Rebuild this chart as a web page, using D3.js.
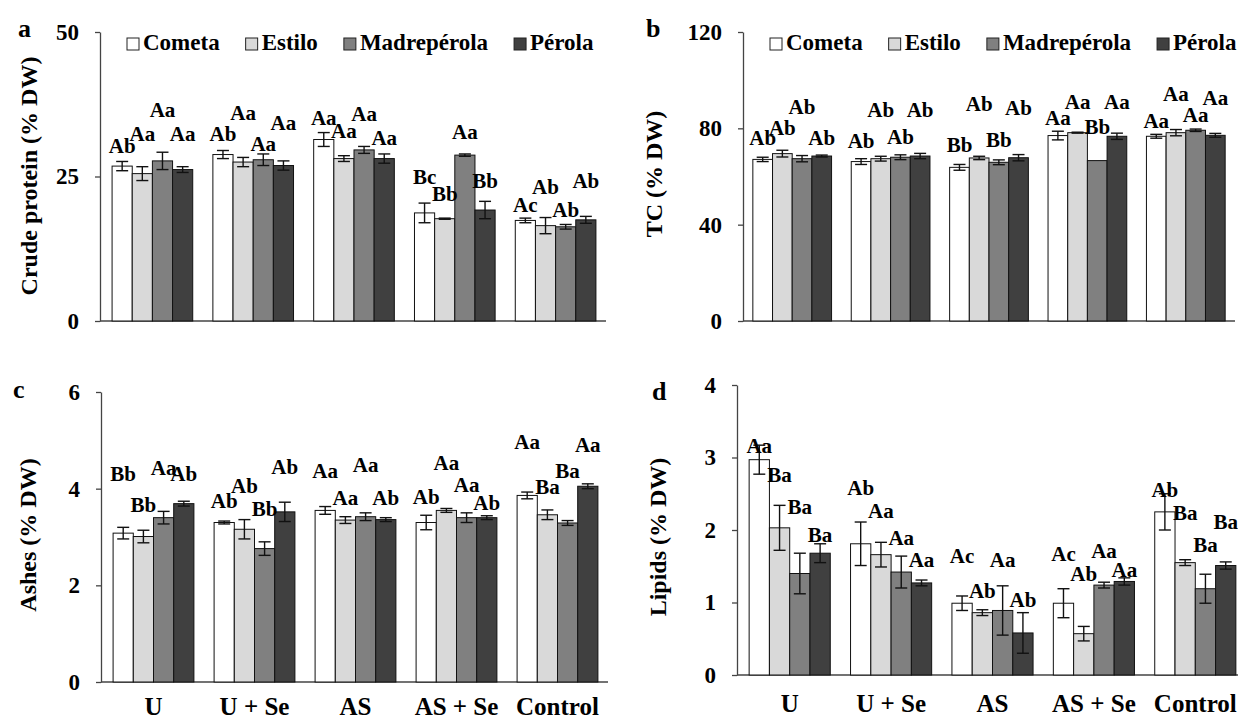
<!DOCTYPE html>
<html>
<head>
<meta charset="utf-8">
<script src="https://cdn.jsdelivr.net/npm/d3@7"></script>
<style>
body { margin: 0; background: #fff; }
</style>
</head>
<body>
<svg id="chart" width="1238" height="720"></svg>
<script>
// categories
const groups = ['U', 'U + Se', 'AS', 'AS + Se', 'Control'];
const cultivars = ['Cometa', 'Estilo', 'Madrepérola', 'Pérola'];

// a - crude protein, rows = groups, cols = cultivars
const proteinMean = [[26.8, 25.5, 27.7, 26.2], [28.8, 27.5, 27.9, 26.9], [31.4, 28.1, 29.6, 28.1], [18.7, 17.7, 28.7, 19.2], [17.4, 16.5, 16.3, 17.5]];
const proteinErr = [[0.8, 1.2, 1.5, 0.5], [0.7, 0.8, 1.0, 0.8], [1.2, 0.5, 0.6, 0.8], [1.7, 0.1, 0.2, 1.5], [0.4, 1.4, 0.4, 0.6]];
const proteinLetters = [['Ab', 'Aa', 'Aa', 'Aa'], ['Ab', 'Aa', 'Aa', 'Aa'], ['Aa', 'Aa', 'Aa', 'Aa'], ['Bc', 'Bb', 'Aa', 'Bb'], ['Ac', 'Ab', 'Ab', 'Ab']];
const proteinLabelAt = [[30.4, 32.5, 36.6, 32.5], [32.5, 36.0, 30.6, 34.4], [35.2, 33.0, 35.9, 31.7], [25.0, 22.0, 32.7, 24.3], [20.2, 23.3, 19.3, 24.2]];
const proteinTicks = [0, 25, 50];

// b - TC
const tcMean = [[67.1, 69.5, 67.4, 68.5], [66.2, 67.4, 68.0, 68.5], [63.8, 67.7, 65.9, 67.8], [77.0, 78.2, 66.6, 76.7], [76.7, 78.2, 79.2, 77.1]];
const tcErr = [[0.9, 1.4, 1.3, 0.4], [1.2, 1.0, 1.0, 1.1], [1.2, 0.7, 1.0, 1.3], [1.8, 0.2, 0, 1.3], [0.8, 1.3, 0.5, 0.8]];
const tcLetters = [['Ab', 'Ab', 'Ab', 'Ab'], ['Ab', 'Ab', 'Ab', 'Ab'], ['Bb', 'Ab', 'Bb', 'Ab'], ['Aa', 'Aa', 'Bb', 'Aa'], ['Aa', 'Aa', 'Aa', 'Aa']];
const tcLabelAt = [[76.3, 80.3, 88.8, 76.3], [74.9, 87.9, 76.6, 87.9], [73.1, 90.2, 75.2, 88.4], [84.6, 91.1, 80.7, 91.1], [83.2, 94.3, 85.6, 92.9]];
const tcTicks = [0, 40, 80, 120];

// c - ashes
const ashMean = [[3.08, 3.01, 3.40, 3.69], [3.30, 3.16, 2.76, 3.52], [3.55, 3.35, 3.42, 3.36], [3.30, 3.55, 3.40, 3.40], [3.86, 3.46, 3.29, 4.05]];
const ashErr = [[0.12, 0.13, 0.13, 0.05], [0.03, 0.2, 0.14, 0.2], [0.08, 0.07, 0.08, 0.04], [0.15, 0.04, 0.1, 0.04], [0.07, 0.1, 0.05, 0.05]];
const ashLetters = [['Bb', 'Bb', 'Aa', 'Ab'], ['Ab', 'Ab', 'Bb', 'Ab'], ['Aa', 'Aa', 'Aa', 'Ab'], ['Ab', 'Aa', 'Aa', 'Ab'], ['Aa', 'Ba', 'Ba', 'Aa']];
const ashLabelAt = [[4.32, 3.66, 4.43, 4.31], [3.76, 4.07, 3.59, 4.46], [4.37, 3.81, 4.50, 3.81], [3.84, 4.53, 4.09, 3.72], [4.97, 4.05, 4.37, 4.92]];
const ashTicks = [0, 2, 4, 6];

// d - lipids
const lipidMean = [[2.97, 2.03, 1.40, 1.68], [1.81, 1.66, 1.42, 1.27], [0.99, 0.86, 0.89, 0.58], [0.99, 0.57, 1.24, 1.29], [2.25, 1.55, 1.19, 1.51]];
const lipidErr = [[0.2, 0.31, 0.28, 0.13], [0.3, 0.17, 0.22, 0.04], [0.1, 0.04, 0.34, 0.28], [0.2, 0.1, 0.04, 0.05], [0.25, 0.04, 0.2, 0.05]];
const lipidLetters = [['Aa', 'Ba', 'Ba', 'Ba'], ['Ab', 'Aa', 'Aa', 'Aa'], ['Ac', 'Ab', 'Aa', 'Ab'], ['Ac', 'Ab', 'Aa', 'Aa'], ['Ab', 'Ba', 'Ba', 'Ba']];
const lipidLabelAt = [[3.17, 2.76, 2.32, 1.94], [2.58, 2.27, 1.89, 1.59], [1.65, 1.16, 1.59, 1.04], [1.67, 1.40, 1.71, 1.45], [2.56, 2.24, 1.80, 2.12]];
const lipidTicks = [0, 1, 2, 3, 4];

const fills = ['#ffffff', '#d9d9d9', '#808080', '#404040'];
const serif = 'Liberation Serif';

const panels = [
    { letter: 'a', title: 'Crude protein (% DW)', mean: proteinMean, err: proteinErr, letters: proteinLetters, labelAt: proteinLabelAt, ticks: proteinTicks,
      axisX: 100, band: [102, 606], xEnd: 606, yTop: 32, yBase: 321, legend: true, cats: null, letterPos: [18, 37], titlePos: [29, 176] },
    { letter: 'b', title: 'TC (% DW)', mean: tcMean, err: tcErr, letters: tcLetters, labelAt: tcLabelAt, ticks: tcTicks,
      axisX: 743, band: [743, 1235], xEnd: 1235, yTop: 32, yBase: 321, legend: true, cats: null, letterPos: [646, 37], titlePos: [654, 174] },
    { letter: 'c', title: 'Ashes (% DW)', mean: ashMean, err: ashErr, letters: ashLetters, labelAt: ashLabelAt, ticks: ashTicks,
      axisX: 101, band: [103, 608], xEnd: 608, yTop: 392, yBase: 682, legend: false, cats: 715, letterPos: [13, 398], titlePos: [28, 535] },
    { letter: 'd', title: 'Lipids (% DW)', mean: lipidMean, err: lipidErr, letters: lipidLetters, labelAt: lipidLabelAt, ticks: lipidTicks,
      axisX: 737, band: [739, 1246], xEnd: 1246, yTop: 385, yBase: 675, legend: false, cats: 712, letterPos: [652, 400], titlePos: [658, 537] }
];

const svg = d3.select('#chart');
svg.append('rect').attr('width', 1238).attr('height', 720).attr('fill', '#fff');

panels.forEach(drawPanel);

function addText(parent, str, size) {
    return parent.append('text')
        .attr('font-family', serif)
        .attr('font-weight', 'bold')
        .attr('font-size', size)
        .text(str);
}

function drawPanel(p) {
    let g = svg.append('g');
    let ticks = p.ticks;
    let y = d3.scaleLinear()
        .domain([0, ticks[ticks.length - 1]])
        .range([p.yBase, p.yTop]);
    let x = d3.scaleBand()
        .domain(groups)
        .range(p.band)
        .paddingInner(0.2)
        .paddingOuter(0.1);
    let xc = d3.scaleBand()
        .domain(cultivars)
        .range([0, x.bandwidth()]);

    // y axis
    let axis = d3.axisLeft(y)
        .tickValues(ticks)
        .tickSize(5)
        .tickSizeOuter(0)
        .tickPadding(16)
        .tickFormat(d3.format('d'));
    let ag = g.append('g')
        .attr('transform', `translate(${ p.axisX }, 0)`)
        .call(axis);
    ag.attr('font-family', serif)
        .attr('font-size', 23)
        .attr('font-weight', 'bold');
    ag.select('.domain').attr('stroke', '#444').attr('stroke-width', 1.3);
    ag.selectAll('.tick line').attr('stroke', '#444').attr('stroke-width', 1.3);
    ag.selectAll('.tick text').attr('fill', '#000');

    // x axis line
    g.append('line')
        .attr('x1', p.axisX).attr('x2', p.xEnd)
        .attr('y1', p.yBase).attr('y2', p.yBase)
        .attr('stroke', '#444').attr('stroke-width', 1.3);

    // bars
    let cells = [];
    groups.forEach((grp, gi) => {
        cultivars.forEach((cv, ci) => {
            cells.push({ grp: grp, cv: cv, ci: ci, v: p.mean[gi][ci], e: p.err[gi][ci],
                         txt: p.letters[gi][ci], at: p.labelAt[gi][ci] });
        });
    });
    let bx = d => x(d.grp) + xc(d.cv);
    let bw = xc.bandwidth();

    g.append('g').selectAll('rect')
        .data(cells)
        .enter()
        .append('rect')
            .attr('x', bx)
            .attr('y', d => y(d.v))
            .attr('width', bw)
            .attr('height', d => p.yBase - y(d.v))
            .attr('fill', d => fills[d.ci])
            .attr('stroke', '#111')
            .attr('stroke-width', 1);

    // error bars
    let eg = g.append('g').attr('stroke', '#111').attr('stroke-width', 1.4);
    cells.filter(d => d.e > 0).forEach(d => {
        let cx = bx(d) + bw / 2;
        eg.append('line').attr('x1', cx).attr('x2', cx).attr('y1', y(d.v - d.e)).attr('y2', y(d.v + d.e));
        eg.append('line').attr('x1', cx - 6).attr('x2', cx + 6).attr('y1', y(d.v - d.e)).attr('y2', y(d.v - d.e));
        eg.append('line').attr('x1', cx - 6).attr('x2', cx + 6).attr('y1', y(d.v + d.e)).attr('y2', y(d.v + d.e));
    });

    // letters
    let lg = g.append('g');
    cells.forEach(d => {
        addText(lg, d.txt, 21)
            .attr('x', bx(d) + bw / 2)
            .attr('y', y(d.at))
            .attr('dy', '0.35em')
            .attr('text-anchor', 'middle');
    });

    // panel letter
    addText(g, p.letter, 26)
        .attr('x', p.letterPos[0])
        .attr('y', p.letterPos[1]);

    // axis title
    addText(g, p.title, 24)
        .attr('transform', `translate(${ p.titlePos[0] }, ${ p.titlePos[1] }) rotate(-90)`)
        .attr('dy', '0.35em')
        .attr('text-anchor', 'middle');

    // category labels
    if (p.cats) {
        groups.forEach(grp => {
            addText(g, grp, 25)
                .attr('x', x(grp) + x.bandwidth() / 2)
                .attr('y', p.cats)
                .attr('text-anchor', 'middle');
        });
    }

    if (p.legend) addLegend(g, p.axisX + 27);
}

function addLegend(g, startX) {
    let lx = startX;
    cultivars.forEach((cv, i) => {
        g.append('rect')
            .attr('x', lx).attr('y', 38)
            .attr('width', 12).attr('height', 12)
            .attr('fill', fills[i])
            .attr('stroke', '#222')
            .attr('stroke-width', 1);
        let t = addText(g, cv, 23)
            .attr('x', lx + 16)
            .attr('y', 50);
        lx += 16 + t.node().getComputedTextLength() + 26;
    });
}
</script>
</body>
</html>
